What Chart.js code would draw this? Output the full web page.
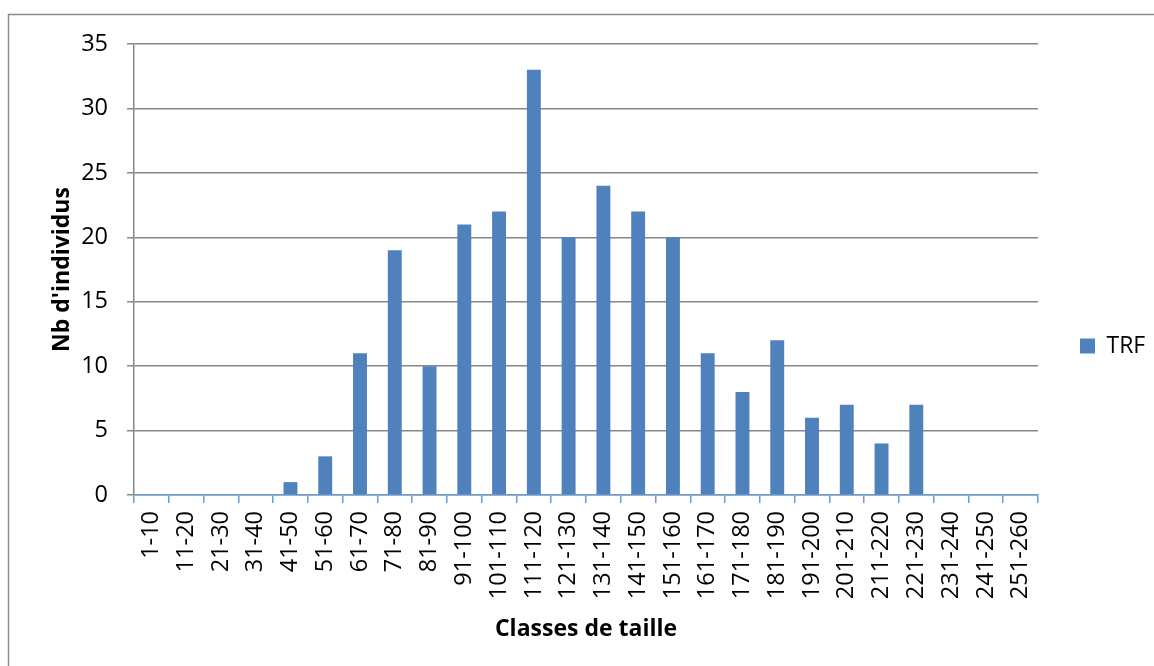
<!DOCTYPE html>
<html>
<head>
<meta charset="utf-8">
<script src="https://cdn.jsdelivr.net/npm/chart.js@4.4.1/dist/chart.umd.min.js"></script>
<style>
  html, body { margin: 0; padding: 0; background: #fff; }
  #wrap { position: absolute; left: 0; top: 0; width: 1154px; height: 666px; }
</style>
</head>
<body>
<div id="wrap"><canvas id="c" width="1154" height="666"></canvas></div>
<script>
const categories = ["1-10","11-20","21-30","31-40","41-50","51-60","61-70","71-80","81-90","91-100",
  "101-110","111-120","121-130","131-140","141-150","151-160","161-170","171-180","181-190",
  "191-200","201-210","211-220","221-230","231-240","241-250","251-260"];
const seriesName = "TRF";
const trfValues = [0,0,0,0,1,3,11,19,10,21,22,33,20,24,22,20,11,8,12,6,7,4,7,0,0,0];
const yTicks = [0,5,10,15,20,25,30,35];
const yTitle = "Nb d'individus";
const xTitle = "Classes de taille";

const FONT = "'Open Sans', 'Liberation Sans', sans-serif";

const frame = {
  id: 'frame',
  beforeDraw(chart) {
    const ctx = chart.ctx;
    ctx.save();
    ctx.fillStyle = '#fff';
    ctx.fillRect(0, 0, chart.width, chart.height);
    ctx.strokeStyle = '#8c8c8c';
    ctx.lineWidth = 1.5;
    ctx.strokeRect(8.5, 14.5, chart.width + 20, chart.height + 20);
    ctx.restore();
  }
};

new Chart(document.getElementById('c'), {
  type: 'bar',
  data: {
    labels: categories,
    datasets: [{
      label: seriesName,
      data: trfValues,
      backgroundColor: '#4F81BD',
      borderWidth: 0,
      categoryPercentage: 1.0,
      barPercentage: 0.4
    }]
  },
  options: {
    responsive: false,
    animation: false,
    devicePixelRatio: 1,
    layout: { padding: { left: 0, top: 44, right: 6, bottom: 18 } },
    plugins: {
      tooltip: { enabled: false },
      legend: {
        position: 'right',
        align: 'center',
        maxWidth: 110,
        labels: {
          boxWidth: 15,
          boxHeight: 15,
          padding: 42,
          color: '#000',
          font: { family: FONT, size: 23 }
        }
      }
    },
    scales: {
      x: {
        offset: true,
        grid: {
          display: true,
          drawOnChartArea: false,
          drawTicks: true,
          offset: true,
          tickLength: 8,
          color: '#6E9BD0',
          lineWidth: 1.5
        },
        border: { display: true, color: '#6E9BD0', width: 1.5 },
        ticks: {
          autoSkip: false,
          maxRotation: 90,
          minRotation: 90,
          padding: 8,
          color: '#000',
          font: { family: FONT, size: 23.5 }
        },
        title: {
          display: true,
          text: xTitle,
          color: '#000',
          font: { family: FONT, size: 23, weight: 'bold' },
          padding: { top: 4, bottom: 5 }
        },
        afterFit(scale) { scale.height = 666 - 495 - 18; }
      },
      y: {
        min: 0,
        max: 35,
        afterBuildTicks(scale) { scale.ticks = yTicks.map(v => ({ value: v })); },
        grid: {
          color: '#878787',
          lineWidth: 1.5,
          tickLength: 7,
          drawTicks: true
        },
        border: { display: true, color: '#878787', width: 1.5 },
        ticks: {
          padding: 19,
          color: '#000',
          font: { family: FONT, size: 23.5 }
        },
        title: {
          display: true,
          text: yTitle,
          color: '#000',
          font: { family: FONT, size: 23, weight: 'bold' },
          padding: { top: 49, bottom: 0 }
        },
        afterFit(scale) { scale.width = 134; }
      }
    }
  },
  plugins: [frame]
});
</script>
</body>
</html>
